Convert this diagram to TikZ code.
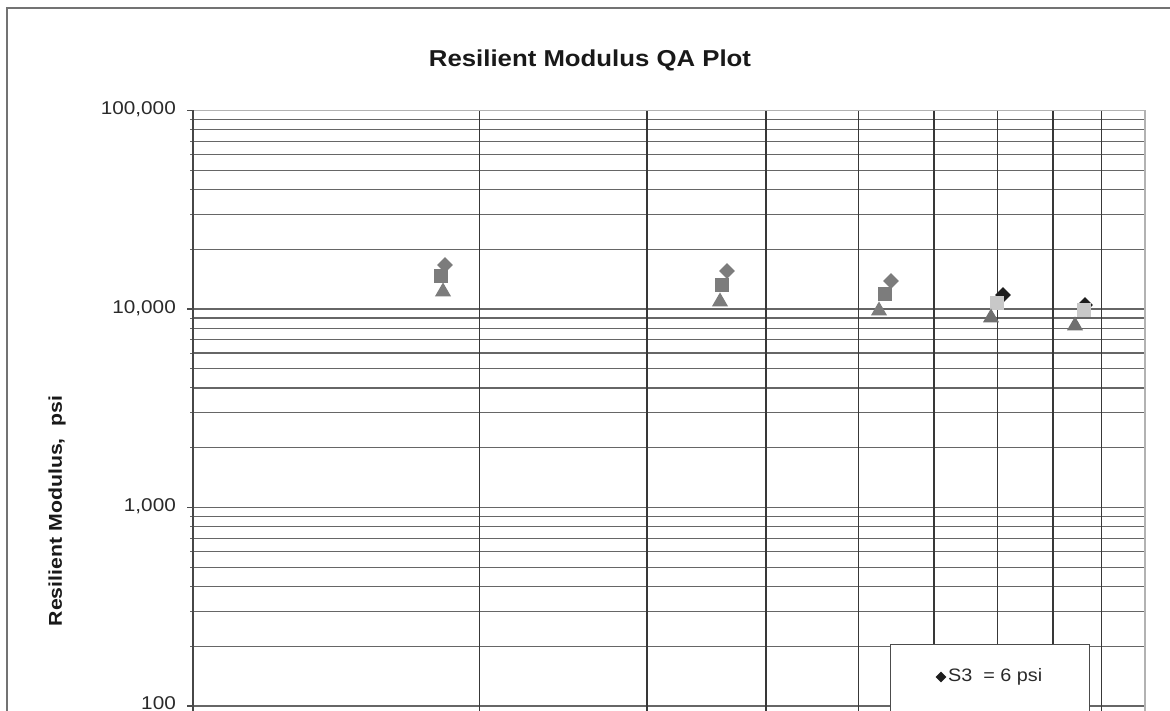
\documentclass[tikz,border=0pt]{standalone}
\usepackage{fontspec}
\setmainfont{Liberation Sans}
\usetikzlibrary{shapes.geometric}
\definecolor{mgray}{HTML}{7C7C7C}
\definecolor{lgray}{HTML}{C8C8C8}
\definecolor{tgray}{HTML}{707070}
\definecolor{dkmark}{HTML}{1E1E1E}
\definecolor{txt}{HTML}{2A2A2A}
\begin{document}
\begin{tikzpicture}[x=1pt,y=-1pt,
  hgrid/.style={draw=black!60, line width=1.2pt},
  vgrid/.style={draw=black!78, line width=1.8pt},
  border/.style={draw=black!30, line width=1.2pt},
  axisline/.style={draw=black!72, line width=1.8pt},
  ticklab/.style={anchor=east, inner sep=0pt, text=txt, font=\fontsize{18.5}{20}\selectfont},
  dmark/.style={shape=diamond, minimum width=16pt, minimum height=16pt, inner sep=0pt, draw=none},
  smark/.style={shape=rectangle, minimum width=14.5pt, minimum height=14.5pt, inner sep=0pt, draw=none},
  tmark/.style={shape=regular polygon, regular polygon sides=3, minimum size=18.5pt, inner sep=0pt, draw=none},
]
\useasboundingbox (0,0) rectangle (1170,711);
\fill[white] (0,0) rectangle (1170,711);
\begin{scope}
\clip (0,0) rectangle (1170,711);
% outer frame
\draw[draw=black!55, line width=1.5pt] (7,711) -- (7,8) -- (1170,8);
% title
\node[inner sep=0pt, text=black!90, font=\bfseries\fontsize{23}{26}\selectfont] (title) at (590,60) {\scalebox{1.12}[1]{Resilient Modulus QA Plot}};
% horizontal grid
\foreach \d in {309,507.5,706} {
  \foreach \k in {2,...,9} {
    \draw[hgrid] (193,{\d-198.5*log10(\k)}) -- (1145,{\d-198.5*log10(\k)});
    \draw[draw=black!60, line width=1pt] (190,{\d-198.5*log10(\k)}) -- (193,{\d-198.5*log10(\k)});
  }
  \draw[hgrid] (193,\d) -- (1145,\d);
}
% vertical grid
\foreach \k in {2,...,9} {
  \draw[vgrid] ({193+952*log10(\k)},110.5) -- ({193+952*log10(\k)},711);
}
% plot border top/right
\draw[border] (193,110.5) -- (1145,110.5) -- (1145,711);
% left axis
\draw[axisline] (193,110.5) -- (193,711);
\foreach \yy in {110.5,309,507.5,706} {
  \draw[draw=black!70, line width=1.2pt] (187,\yy) -- (193,\yy);
}
% tick labels
\node[ticklab] (l5) at (176,109) {\scalebox{1.12}[1]{100,000}};
\node[ticklab] (l4) at (176,308) {\scalebox{1.12}[1]{10,000}};
\node[ticklab] (l3) at (176,506.5) {\scalebox{1.12}[1]{1,000}};
\node[ticklab] (l2) at (176,703) {\scalebox{1.12}[1]{100}};
% y label
\node[rotate=90, inner sep=0pt, text=black!90, font=\bfseries\fontsize{18.5}{20}\selectfont] (ylab) at (57,511) {\scalebox{1.15}[1]{Resilient Modulus,\hspace{0.55em}psi}};
% data: diamonds
\node[dmark, fill=mgray] (d1) at (445,265) {};
\node[dmark, fill=mgray] (d2) at (727,271) {};
\node[dmark, fill=mgray] (d3) at (891,281) {};
\node[dmark, fill=dkmark] (d4) at (1003,295) {};
\node[dmark, fill=dkmark] (d5) at (1085,305) {};
% squares
\node[smark, fill=mgray] (s1) at (441,276) {};
\node[smark, fill=mgray] (s2) at (722,285) {};
\node[smark, fill=mgray] (s3) at (885,294) {};
\node[smark, fill=lgray] (s4) at (997,303) {};
\node[smark, fill=lgray] (s5) at (1084,310) {};
% triangles
\node[tmark, fill=mgray] (t1) at (443,291.7) {};
\node[tmark, fill=mgray] (t2) at (720,301.7) {};
\node[tmark, fill=mgray] (t3) at (879,310.7) {};
\node[tmark, fill=tgray] (t4) at (991,317.7) {};
\node[tmark, fill=tgray] (t5) at (1075,325.7) {};
% legend
\node[draw=black!70, line width=1.3pt, fill=white, minimum width=199pt, minimum height=120pt, anchor=north west, inner sep=0pt] (legend) at (890,644) {};
\node[dmark, fill=dkmark, minimum width=11pt, minimum height=11pt] (ld) at (941,677) {};
\node[anchor=west, inner sep=0pt, text=txt, font=\fontsize{18}{20}\selectfont] (lt) at (948,677) {\scalebox{1.1}[1]{S3\hspace{0.55em}= 6 psi}};
\end{scope}
\end{tikzpicture}
\end{document}
